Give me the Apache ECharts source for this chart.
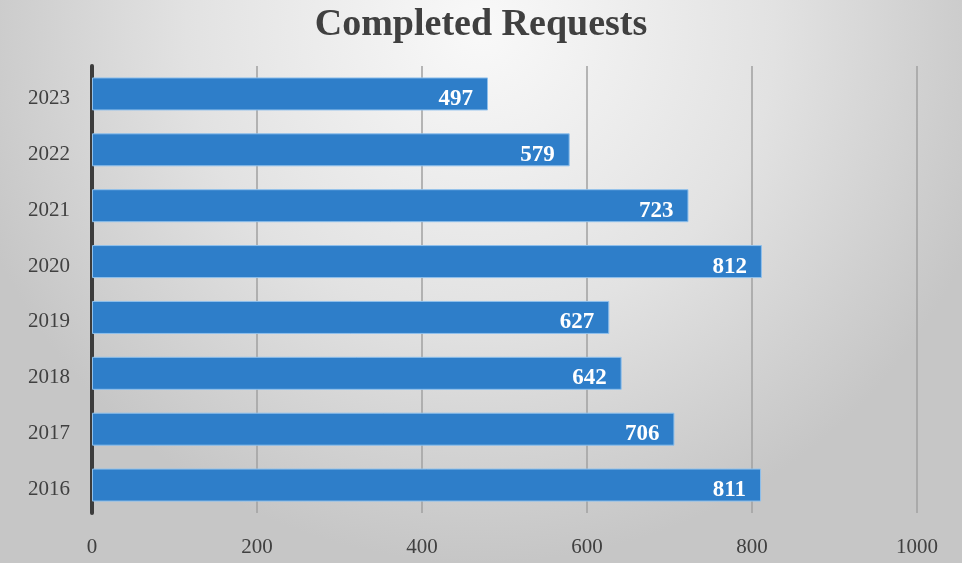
<!DOCTYPE html>
<html>
<head>
<meta charset="utf-8">
<script src="https://cdn.jsdelivr.net/npm/echarts@6/dist/echarts.min.js"></script>
<style>
html,body{margin:0;padding:0;background:#d0d0d0;}
#chart{width:962px;height:563px;}
</style>
</head>
<body>
<div id="chart"></div>
<script>
var categories = ['2016','2017','2018','2019','2020','2021','2022','2023'];
var values = [811, 706, 642, 627, 812, 723, 579, 480];
var labelTexts = ['811','706','642','627','812','723','579','497'];
var xTicks = [0, 200, 400, 600, 800, 1000];
var titleText = 'Completed Requests';

var serif = '"Liberation Serif", "DejaVu Serif", serif';
var chart = echarts.init(document.getElementById('chart'));
chart.setOption({
  animation: false,
  backgroundColor: {
    type: 'radial', x: 0.5, y: 0.05, r: 0.95,
    colorStops: [
      {offset: 0, color: '#f9f9f9'},
      {offset: 0.55, color: '#e2e2e2'},
      {offset: 1, color: '#c6c6c6'}
    ]
  },
  title: {
    text: titleText,
    left: 'center',
    top: 1,
    textStyle: {fontFamily: serif, fontSize: 38, fontWeight: 'bold', color: '#404040'}
  },
  grid: {left: 92, right: 45, top: 66, bottom: 50, containLabel: false},
  xAxis: {
    type: 'value',
    min: xTicks[0], max: xTicks[xTicks.length - 1], interval: 200,
    axisLine: {show: false},
    axisTick: {show: false},
    splitLine: {show: true, lineStyle: {color: '#a0a0a0', width: 1.5}},
    axisLabel: {
      margin: 24, fontFamily: serif, fontSize: 21, color: '#404040',
      formatter: function (v) { return String(v); }
    }
  },
  yAxis: {
    type: 'category',
    data: categories,
    axisLine: {show: true, lineStyle: {color: '#3c3c3c', width: 4}},
    axisTick: {show: false},
    axisLabel: {margin: 22, fontFamily: serif, fontSize: 21, color: '#404040',
      formatter: function (v) { return '{a|' + v + '}'; },
      rich: {a: {fontFamily: serif, fontSize: 21, color: '#404040', padding: [9, 0, 0, 0]}}
    }
  },
  series: [{
    type: 'bar',
    data: values,
    barWidth: 33,
    itemStyle: {color: '#2e7ec9', borderColor: '#8fc0ec', borderWidth: 1},
    label: {
      show: true,
      position: 'insideRight',
      distance: 15,
      offset: [0, 5],
      fontFamily: serif, fontSize: 23, fontWeight: 'bold', color: '#ffffff',
      formatter: function (p) { return labelTexts[p.dataIndex]; }
    }
  }]
});
</script>
</body>
</html>
